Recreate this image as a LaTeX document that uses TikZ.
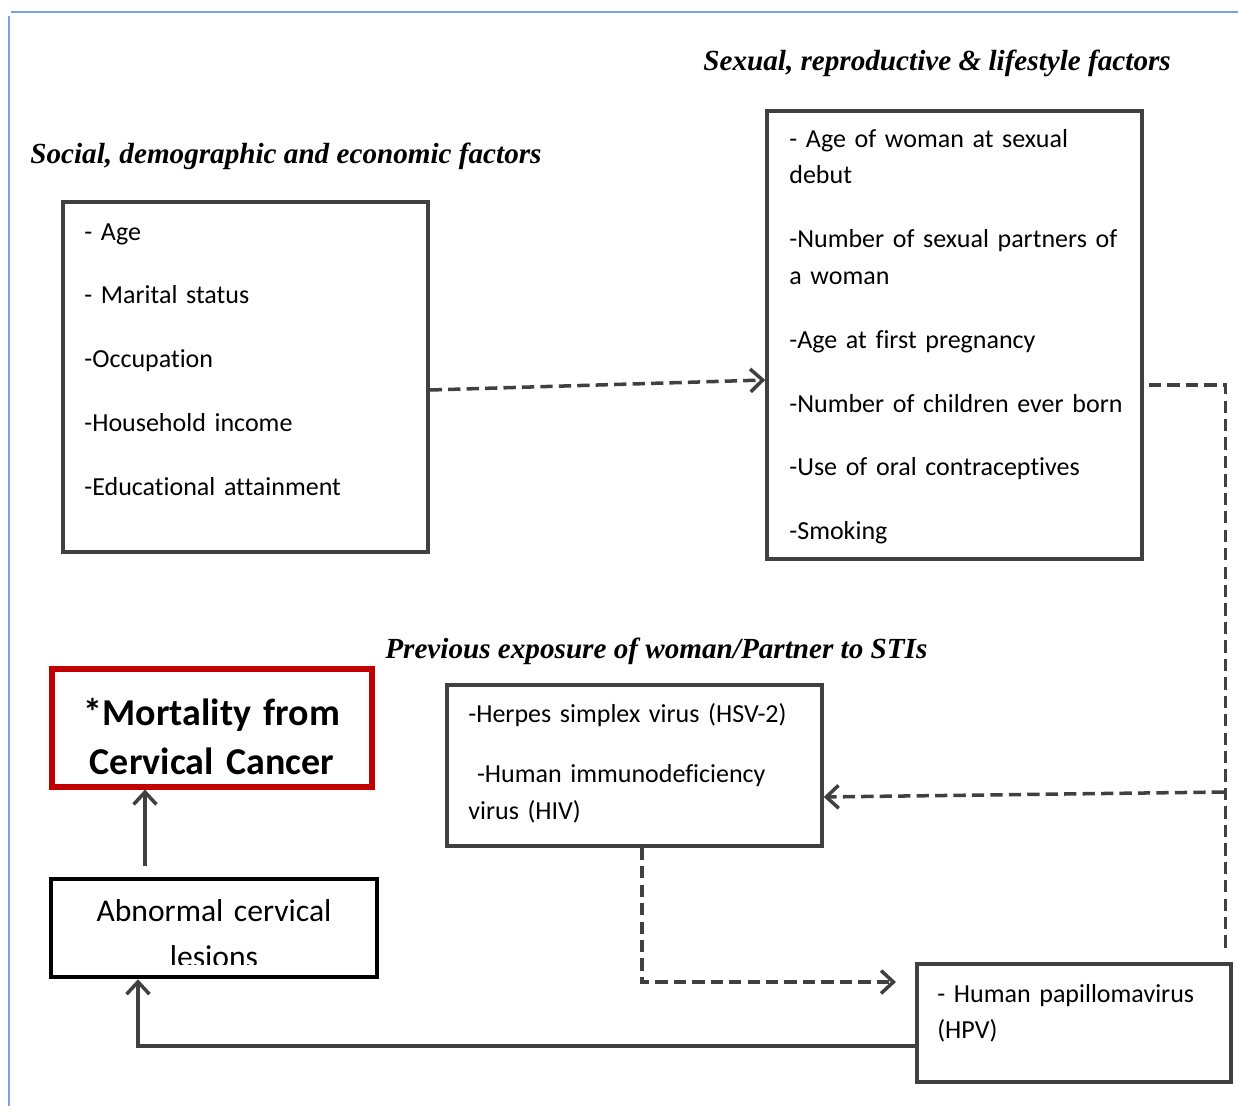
\documentclass[tikz,border=0pt]{standalone}
\usepackage{fontspec}
\setmainfont{Carlito}[Ligatures=NoCommon]
\newfontfamily\headfont{Liberation Serif}
\usepackage{tikz}
\usetikzlibrary{positioning,arrows.meta}

\definecolor{framegray}{RGB}{64,64,64}
\definecolor{mortred}{RGB}{192,0,0}
\definecolor{pageblue}{RGB}{122,164,222}

\begin{document}
\begin{tikzpicture}[%
            x=0.02cm,
            y=-0.02cm,
            >={Straight Barb[length=7pt,width=13pt]},
            factorbox/.style={%
            	rectangle,
            	inner sep=0pt,
            	line width=2pt,
            	draw=framegray
            },
            outcomebox/.style={%
            	rectangle,
            	inner sep=0pt,
            	line width=2.6pt,
            	draw=black
            },
            itemtext/.style={%
            	anchor=base west,
            	inner sep=0pt,
            	align=left,
            	text width=8cm,
            	font=\fontsize{14.8}{21}\selectfont
            },
            headtext/.style={%
            	anchor=base west,
            	inner sep=0pt,
            	font=\headfont\bfseries\itshape\fontsize{16.6}{20}\selectfont
            },
            dashline/.style={%
            	draw=framegray,
            	line width=2pt,
            	dash pattern=on 7pt off 3.5pt
            },
            solidline/.style={%
            	draw=framegray,
            	line width=2pt
            }
            ]
            \useasboundingbox (0,0) rectangle (1238,1106);
            \draw[pageblue, line width=1pt] (11,12) -- (1238,12);
            \draw[pageblue, line width=1pt] (9,16) -- (9,1106);

            % group headings
            \node[headtext] (sexhead) at (703,70)  {Sexual, reproductive \& lifestyle factors};
            \node[headtext] (sochead) at (30,163)  {Social, demographic and economic factors};
            \node[headtext] (stihead) at (385,658) {Previous exposure of woman/Partner to STIs};

            % boxes
            \node[factorbox, minimum width=7.3cm, minimum height=7cm] (socbox) at (245.5,377) {};
            \node[factorbox, minimum width=7.5cm, minimum height=8.96cm] (sexbox) at (954.5,335) {};
            \node[factorbox, minimum width=7.5cm, minimum height=3.22cm] (stibox) at (634.5,765.5) {};
            \node[factorbox, minimum width=6.28cm, minimum height=2.36cm] (hpvbox) at (1074,1023) {};
            \node[rectangle, inner sep=0pt, line width=2.9pt, draw=mortred,
                  minimum width=6.4cm, minimum height=2.36cm] (mortbox) at (212,728) {};
            \node[outcomebox, minimum width=6.52cm, minimum height=1.96cm] (abnbox) at (214,928) {};

            % box texts
            \node[itemtext] (soctext) at (84,240) {- Age\\[15.3pt]- Marital status\\[15.3pt]-Occupation\\[15.3pt]-Household income\\[15.3pt]-Educational attainment};
            \node[itemtext] (sextext) at (789,147) {- Age of woman at sexual\\debut\\[15.3pt]-Number of sexual partners of\\a woman\\[15.3pt]-Age at first pregnancy\\[15.3pt]-Number of children ever born\\[15.3pt]-Use of oral contraceptives\\[15.3pt]-Smoking};
            \node[itemtext] (stitext) at (468,722) {-Herpes simplex virus (HSV-2)\\[13.5pt]\ -Human immunodeficiency\\virus (HIV)};
            \node[itemtext] (hpvtext) at (937,1002) {- Human papillomavirus\\(HPV)};
            \node[anchor=base, inner sep=0pt, align=center, text width=6.2cm,
                  font=\bfseries\fontsize{21.6}{28.3}\selectfont] (morttext) at (212,725) {*Mortality from\\Cervical Cancer};
            \begin{scope}
              \clip (51,879) rectangle (377,964);
              \node[anchor=base, inner sep=0pt, align=center, text width=6.2cm,
                    font=\fontsize{18}{26.2}\selectfont] (abntext) at (214,921) {Abnormal cervical\\lesions};
            \end{scope}

            % connectors
            \coordinate (split) at (1224,792);
            \coordinate (abnup) at ([xshift=-1.38cm]abnbox.north);

            \draw[dashline, ->] ([yshift=-0.26cm]socbox.east) -- ([yshift=-0.9cm]sexbox.west);
            \draw[dashline, shorten <=3pt, shorten >=5pt] ([yshift=-1cm]sexbox.east) -| ([xshift=-0.14cm]hpvbox.north east);
            \draw[dashline, ->] (split) -- ([yshift=-0.63cm]stibox.east);
            \draw[dashline, ->, shorten >=11pt] ([xshift=0.15cm]stibox.south) |- ([yshift=0.82cm]hpvbox.west);
            \draw[solidline, ->] ([yshift=-0.46cm]hpvbox.west) -| ([xshift=-1.52cm]abnbox.south);
            \draw[solidline, ->, shorten <=6pt] (abnup) -- (abnup |- mortbox.south);
\end{tikzpicture}
\end{document}
